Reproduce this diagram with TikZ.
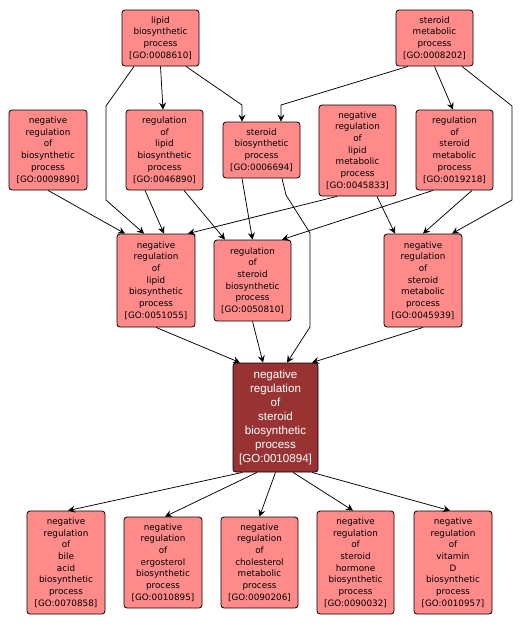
\documentclass[tikz,border=0pt]{standalone}
\usepackage{fontspec}
\setmainfont{DejaVu Sans}
\newfontfamily\mainnodefont{Liberation Sans}
\usetikzlibrary{arrows.meta}
\definecolor{golight}{RGB}{255,138,138}
\definecolor{godark}{RGB}{153,51,51}
\tikzset{
  gobox/.style={draw=black, line width=0.8pt, fill=golight, rounded corners=3pt,
    align=center, inner sep=0pt, font=\fontsize{8.8}{11.7}\selectfont, text=black},
  gomain/.style={draw=black, line width=0.8pt, fill=godark, rounded corners=3pt,
    align=center, inner sep=0pt, font=\mainnodefont\fontsize{11.6}{14}\selectfont, text=white},
  golink/.style={draw=black, line width=0.75pt, -{Stealth[length=7pt,width=7pt,inset=2.5pt]}}
}
\begin{document}
\begin{tikzpicture}[x=1pt,y=-1pt]
\useasboundingbox (0,0) rectangle (527,627);
% top row
\node[gobox, minimum width=77pt, minimum height=56pt] (n8610) at (160.5,38) {lipid\\biosynthetic\\process\\{}[GO:0008610]};
\node[gobox, minimum width=77pt, minimum height=56pt] (n8202) at (434.5,38) {steroid\\metabolic\\process\\{}[GO:0008202]};
% second row
\node[gobox, minimum width=78pt, minimum height=80pt] (n9890) at (48,150) {negative\\regulation\\of\\biosynthetic\\process\\{}[GO:0009890]};
\node[gobox, minimum width=77pt, minimum height=80pt] (n46890) at (164.5,150) {regulation\\of\\lipid\\biosynthetic\\process\\{}[GO:0046890]};
\node[gobox, minimum width=77pt, minimum height=56pt] (n6694) at (261.5,150) {steroid\\biosynthetic\\process\\{}[GO:0006694]};
\node[gobox, minimum width=77pt, minimum height=91pt] (n45833) at (357.5,150.5) {negative\\regulation\\of\\lipid\\metabolic\\process\\{}[GO:0045833]};
\node[gobox, minimum width=77pt, minimum height=80pt] (n19218) at (454.5,150) {regulation\\of\\steroid\\metabolic\\process\\{}[GO:0019218]};
% third row
\node[gobox, minimum width=78pt, minimum height=93pt] (n51055) at (156,280.5) {negative\\regulation\\of\\lipid\\biosynthetic\\process\\{}[GO:0051055]};
\node[gobox, minimum width=77pt, minimum height=81pt] (n50810) at (252.5,280.5) {regulation\\of\\steroid\\biosynthetic\\process\\{}[GO:0050810]};
\node[gobox, minimum width=78pt, minimum height=93pt] (n45939) at (423,280.5) {negative\\regulation\\of\\steroid\\metabolic\\process\\{}[GO:0045939]};
% main
\node[gomain, minimum width=85pt, minimum height=109pt] (main) at (275.5,417.5) {negative\\regulation\\of\\steroid\\biosynthetic\\process\\{}[GO:0010894]};
% bottom row
\node[gobox, minimum width=78pt, minimum height=103pt] (n70858) at (66,562.5) {negative\\regulation\\of\\bile\\acid\\biosynthetic\\process\\{}[GO:0070858]};
\node[gobox, minimum width=78pt, minimum height=91pt] (n10895) at (163,562.5) {negative\\regulation\\of\\ergosterol\\biosynthetic\\process\\{}[GO:0010895]};
\node[gobox, minimum width=77pt, minimum height=91pt] (n90206) at (259.5,562.5) {negative\\regulation\\of\\cholesterol\\metabolic\\process\\{}[GO:0090206]};
\node[gobox, minimum width=77pt, minimum height=103pt] (n90032) at (355.5,562.5) {negative\\regulation\\of\\steroid\\hormone\\biosynthetic\\process\\{}[GO:0090032]};
\node[gobox, minimum width=78pt, minimum height=103pt] (n10957) at (453,562.5) {negative\\regulation\\of\\vitamin\\D\\biosynthetic\\process\\{}[GO:0010957]};
% edges
\draw[golink] (n8610.south) -- ([xshift=-1.5pt]n46890.north);
\draw[golink] ([xshift=25.5pt]n8610.south) -- (242,105) -- ([xshift=-19.5pt]n6694.north);
\draw[golink] ([xshift=-26.5pt]n8610.south) -- (106,106) -- (106,200) -- ([xshift=-12pt]n51055.north);
\draw[golink] (n9890.south) -- ([xshift=-31pt]n51055.north);
\draw[golink] ([xshift=-19.5pt]n46890.south) -- ([xshift=8pt]n51055.north);
\draw[golink] ([xshift=-20.5pt]n45833.south) -- ([xshift=32pt]n51055.north);
\draw[golink] ([xshift=19.5pt]n46890.south) -- ([xshift=-27.5pt]n50810.north);
\draw[golink] ([xshift=-19.5pt]n6694.south) -- (n50810.north);
\draw[golink] ([xshift=-21.5pt]n19218.south) -- ([xshift=29.5pt]n50810.north);
\draw[golink] ([xshift=20.5pt]n6694.south) -- (286,195) -- (310,233) -- (310,327) -- ([xshift=11.5pt]main.north);
\draw[golink] ([xshift=-26.5pt]n8202.south) -- (281,105) -- ([xshift=19.5pt]n6694.north);
\draw[golink] (n8202.south) -- ([xshift=-1.5pt]n19218.north);
\draw[golink] ([xshift=27.5pt]n8202.south) -- (512,106) -- (512,200) -- ([xshift=29pt]n45939.north);
\draw[golink] ([xshift=19.5pt]n45833.south) -- ([xshift=-28pt]n45939.north);
\draw[golink] ([xshift=17.5pt]n19218.south) -- (n45939.north);
\draw[golink] (n51055.south) -- ([xshift=-35.5pt]main.north);
\draw[golink] (n50810.south) -- ([xshift=-12.5pt]main.north);
\draw[golink] (n45939.south) -- ([xshift=36.5pt]main.north);
\draw[golink] ([xshift=-33pt]main.south) -- ([xshift=2pt]n70858.north);
\draw[golink] ([xshift=-18.5pt]main.south) -- ([xshift=2pt]n10895.north);
\draw[golink] (main.south) -- (n90206.north);
\draw[golink] ([xshift=17.5pt]main.south) -- ([xshift=-2.5pt]n90032.north);
\draw[golink] ([xshift=36.5pt]main.south) -- ([xshift=-3pt]n10957.north);
\end{tikzpicture}
\end{document}
